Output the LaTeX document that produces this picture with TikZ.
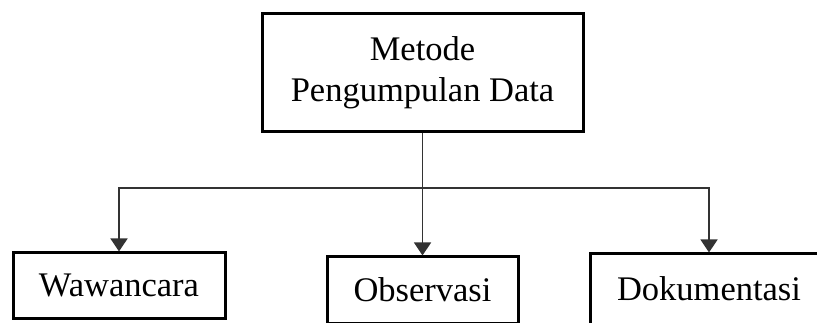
\documentclass[tikz,border=0pt]{standalone}
\usepackage{fontspec}
\setmainfont{Liberation Serif}
\usetikzlibrary{calc, positioning}
\usetikzlibrary{arrows.meta}

\begin{document}
\begin{tikzpicture}[x=1pt, y=1pt,
  box/.style={draw, line width=3pt, inner sep=0pt, align=center,
    font=\fontsize{34.5}{41}\selectfont},
  link/.style={line width=1.4pt, draw=black!80},
  arr/.style={link, -{Triangle[length=13pt, width=17pt]}}]
\def\busy{-188}

\useasboundingbox (0,0) rectangle (817,-323);
\clip (0,0) rectangle (817,-323);

\node[box, minimum width=321pt, minimum height=118pt] (metode) at (422.5,-73)
  {Metode\\Pengumpulan Data};

\node[box, minimum width=212pt, minimum height=65pt] (wawancara) at (119,-285.5)
  {Wawancara};
\node[box, minimum width=191pt, minimum height=66pt] (observasi) at (422.5,-290)
  {Observasi};
\node[box, minimum width=238pt, minimum height=70pt] (dokumentasi) at (709,-289)
  {Dokumentasi};

\coordinate (bus) at (422.5,\busy);

\draw[link] (metode.south) -- (bus);
\draw[arr] (bus) -| (wawancara.north);
\draw[arr] (bus) -- (observasi.north);
\draw[arr] (bus) -| (dokumentasi.north);

\end{tikzpicture}
\end{document}
